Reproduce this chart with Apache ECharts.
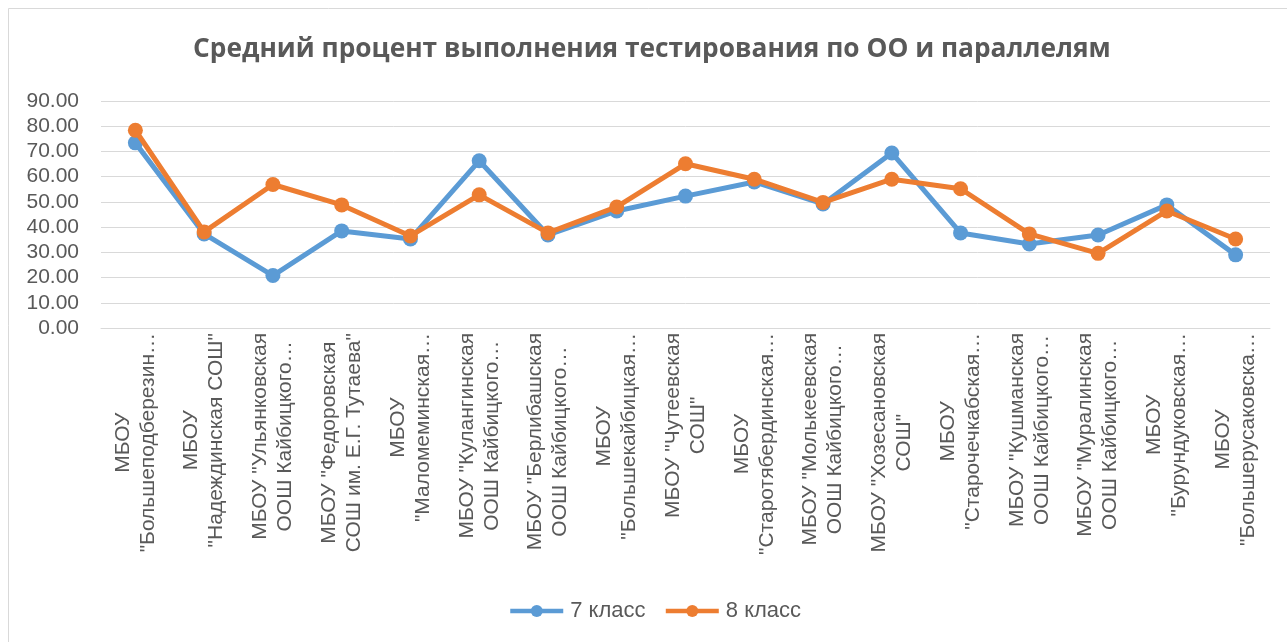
<!DOCTYPE html>
<html>
<head>
<meta charset="utf-8">
<script src="https://cdn.jsdelivr.net/npm/echarts@6/dist/echarts.min.js"></script>
<style>
  html, body { margin: 0; padding: 0; background: #fff; }
  #chart { width: 1287px; height: 642px; }
</style>
</head>
<body>
<div id="chart"></div>
<script>
// подписи школ (как на картинке, с переносами)
var schools = [
    'МБОУ\n"Большеподберезин…',
    'МБОУ\n"Надеждинская СОШ"',
    'МБОУ "Ульянковская\nООШ Кайбицкого…',
    'МБОУ "Федоровская\nСОШ им. Е.Г. Тутаева"',
    'МБОУ\n"Маломеминская…',
    'МБОУ "Кулангинская\nООШ Кайбицкого…',
    'МБОУ "Берлибашская\nООШ Кайбицкого…',
    'МБОУ\n"Большекайбицкая…',
    'МБОУ "Чутеевская\nСОШ"',
    'МБОУ\n"Старотябердинская…',
    'МБОУ "Молькеевская\nООШ Кайбицкого…',
    'МБОУ "Хозесановская\nСОШ"',
    'МБОУ\n"Старочечкабская…',
    'МБОУ "Кушманская\nООШ Кайбицкого…',
    'МБОУ "Муралинская\nООШ Кайбицкого…',
    'МБОУ\n"Бурундуковская…',
    'МБОУ\n"Большерусаковска…'
];
var grade7 = [73.4, 37.3, 20.8, 38.5, 35.3, 66.3, 36.9, 46.4, 52.3, 57.9, 49.2, 69.4, 37.7, 33.3, 36.9, 48.8, 29.0];
var grade8 = [78.4, 38.1, 56.9, 48.8, 36.5, 52.8, 37.7, 48.0, 65.1, 59.0, 49.8, 59.0, 55.2, 37.3, 29.6, 46.4, 35.3];
var seriesNames = ['7 класс', '8 класс'];

var myChart = echarts.init(document.getElementById('chart'));
var option = {
    backgroundColor: '#fff',
    color: ['#5B9BD5', '#ED7D31'],
    title: {
        text: 'Средний процент выполнения тестирования по ОО и параллелям',
        left: 193,
        top: 37,
        padding: 0,
        textStyle: {
            fontFamily: 'Open Sans',
            fontWeight: 'bold',
            fontSize: 26.3,
            color: '#595959'
        }
    },
    graphic: [{
        type: 'rect',
        shape: { x: 8.5, y: 8.5, width: 1290, height: 650 },
        style: { fill: 'none', stroke: '#D9D9D9', lineWidth: 1 },
        silent: true
    }],
    legend: {
        bottom: 15,
        left: 503,
        itemWidth: 53,
        itemHeight: 15,
        itemGap: 18,
        lineStyle: { width: 4.5 },
        textStyle: { fontFamily: 'Liberation Sans', fontSize: 22, color: '#595959', padding: [0, 0, 0, 2] },
        data: seriesNames
    },
    grid: {
        left: 101,
        right: 17,
        top: 101,
        bottom: 314
    },
    xAxis: {
        type: 'category',
        data: schools,
        boundaryGap: true,
        axisLine: { lineStyle: { color: '#D9D9D9', width: 1 } },
        axisTick: { show: false },
        axisLabel: {
            interval: 0,
            rotate: 90,
            margin: 5,
            color: '#595959',
            formatter: function (v) {
                return v.split('\n').map(function (s) { return '{c|' + s + '}'; }).join('\n');
            },
            rich: {
                c: {
                    align: 'center',
                    fontFamily: 'Liberation Sans',
                    fontSize: 21,
                    lineHeight: 25,
                    color: '#595959'
                }
            }
        }
    },
    yAxis: {
        type: 'value',
        min: 0,
        max: 90,
        interval: 10,
        axisLine: { show: false },
        axisTick: { show: false },
        splitLine: { lineStyle: { color: '#D9D9D9', width: 1 } },
        axisLabel: {
            margin: 22,
            fontFamily: 'Liberation Sans',
            fontSize: 21,
            color: '#595959',
            formatter: function (v) { return v.toFixed(2); }
        }
    },
    series: [{
        name: seriesNames[0],
        type: 'line',
        data: grade7,
        symbol: 'circle',
        symbolSize: 15,
        lineStyle: { width: 5 },
        z: 2
    }, {
        name: seriesNames[1],
        type: 'line',
        data: grade8,
        symbol: 'circle',
        symbolSize: 15,
        lineStyle: { width: 5 },
        z: 3
    }]
};
myChart.setOption(option);
</script>
</body>
</html>
